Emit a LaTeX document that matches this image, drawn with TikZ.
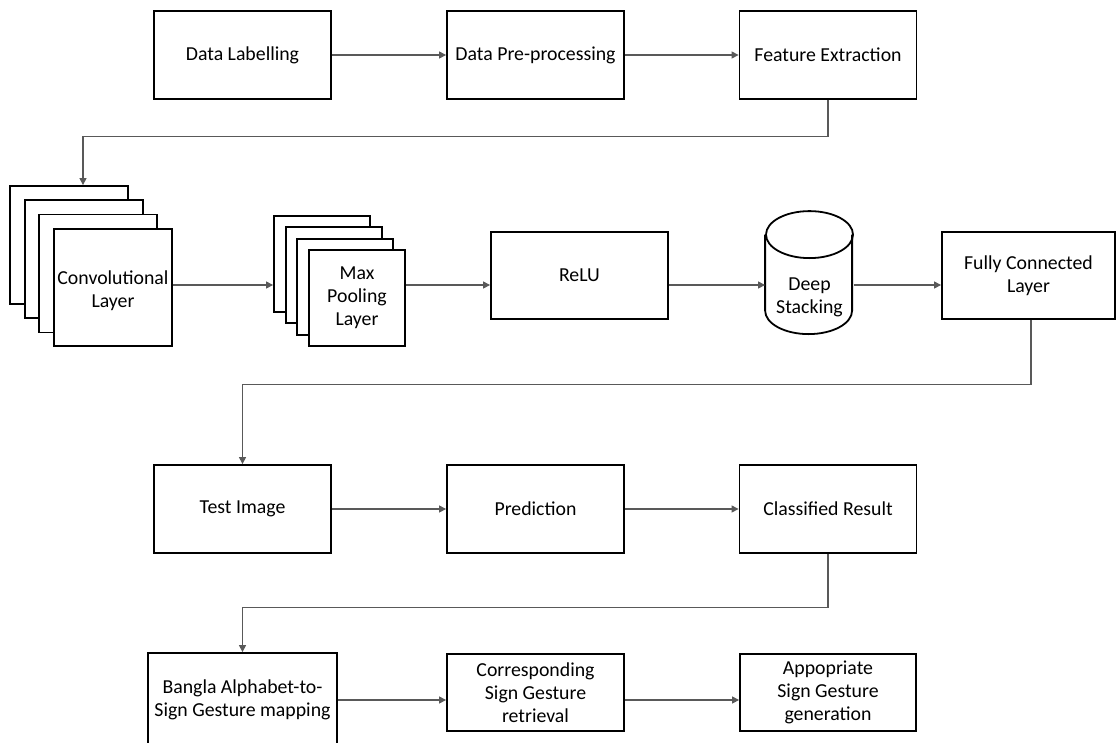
\documentclass[tikz,border=0pt]{standalone}
\usepackage{fontspec}
\setmainfont{Carlito}
\usepackage{tikz}
\usetikzlibrary{arrows.meta,calc}
\tikzset{blk/.style={draw,line width=1.8pt,fill=white,align=center,
           inner sep=2pt,font=\fontsize{19.8}{23}\selectfont},
         wide/.style={blk,minimum width=177pt,minimum height=88pt},
         layer/.style={draw,line width=1.8pt,fill=white},
         link/.style={-{Triangle[length=7pt,width=7pt]},line width=1.1pt,black!65}}

\begin{document}
\begin{tikzpicture}[x=1pt,y=-1pt]
\useasboundingbox (0,0) rectangle (1116,742);
% first row
\node[wide] (dl) at (242.5,55) {Data Labelling};
\node[wide] (dp) at (535.5,55) {Data Pre-processing};
\node[wide] (fe) at (828,55) {Feature Extraction};
% convolution stack and pooling stack
\foreach \i in {1,2,3}
  \node[layer,minimum width=118pt,minimum height=118pt] (conv\i)
    at ({69+14.67*(\i-1)},{245+14.2*(\i-1)}) {};
\node[blk,minimum width=118pt,minimum height=117pt] (conv) at (113,287.5)
  {\\[-3pt]Convolutional\\Layer};
\foreach \i in {1,2,3}
  \node[layer,minimum width=96pt,minimum height=96pt] (pool\i)
    at ({322+11.67*(\i-1)},{264+11.33*(\i-1)}) {};
\node[blk,minimum width=96pt,minimum height=96pt] (pool) at (357,298)
  {Max\\Pooling\\Layer};
\node[wide,minimum height=87pt] (relu) at (579.5,275.5) {ReLU};
% cylinder: the node is its body, the caps are drawn on it
\node[blk,draw=none,fill=none,minimum width=87pt,minimum height=76pt] (ds)
  at (809.5,297) {Deep\\Stacking};
\draw[layer,fill=none] ($(ds.north)+(0,-23.5)$) ellipse[x radius=43.5pt,y radius=23.5pt];
\draw[layer,fill=none] (ds.north west) ++(0,-23.5) -- ++(0,76)
  arc[start angle=180,end angle=360,x radius=43.5pt,y radius=23.5pt] -- ++(0,-76);
\node[wide,minimum width=173pt,minimum height=87pt] (fc) at (1028.5,275.5)
  {Fully Connected\\Layer};
% test row
\node[wide] (ti) at (242.5,509) {Test Image};
\node[wide] (pr) at (535.5,509) {Prediction};
\node[wide] (cr) at (828,509) {Classified Result};
% last row
\node[wide,minimum width=189pt,minimum height=94pt] (bg) at (242.5,700)
  {Bangla Alphabet-to-\\Sign Gesture mapping};
\node[wide,minimum height=77pt] (cg) at (535.5,692.5)
  {Corresponding\\Sign Gesture\\retrieval};
\node[wide,minimum width=176pt,minimum height=77pt] (ag) at (828,692.5)
  {Appopriate\\Sign Gesture\\generation};
\coordinate (r2) at (0,285);
\coordinate (r4) at (0,700);
\draw[link] (dl) -- (dp);
\draw[link] (dp) -- (fe);
\draw[link] (fe.south) -- ++(0,37) -| ([xshift=14pt]conv1.north);
\draw[link] (conv.east|-r2) -- (pool1.west|-r2);
\draw[link] (pool.east|-r2) -- (relu.west|-r2);
\draw[link] (relu.east|-r2) -- (ds.west|-r2);
\draw[link] (ds.east|-r2) -- (fc.west|-r2);
\draw[link] ([xshift=2.5pt]fc.south) -- ++(0,65) -| (ti.north);
\draw[link] (ti) -- (pr);
\draw[link] (pr) -- (cr);
\draw[link] (cr.south) -- ++(0,54) -| (bg.north);
\draw[link] (bg.east|-r4) -- (cg.west|-r4);
\draw[link] (cg.east|-r4) -- (ag.west|-r4);
\end{tikzpicture}
\end{document}
